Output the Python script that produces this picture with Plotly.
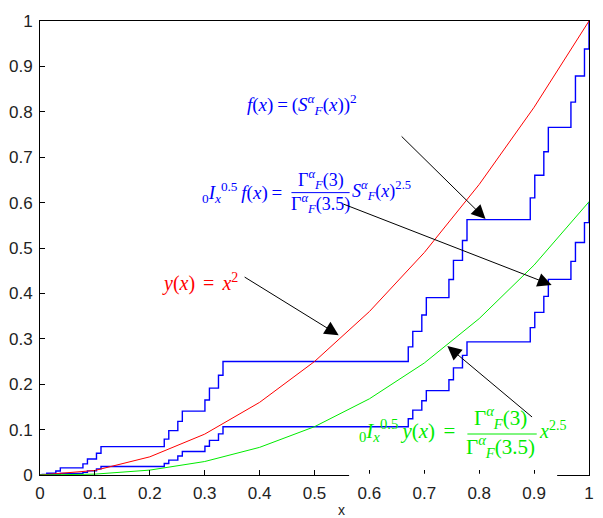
import plotly.graph_objects as go

# ---- data ----
x_smooth = [0, 0.1, 0.2, 0.3, 0.4, 0.5, 0.6, 0.7, 0.8, 0.9, 1.0]
y_square = [0, 0.01, 0.04, 0.09, 0.16, 0.25, 0.36, 0.49, 0.64, 0.81, 1.0]
y_frac_smooth = [0, 0.0019, 0.0108, 0.0297, 0.0609, 0.1064, 0.1678, 0.2467, 0.3445, 0.4624, 0.6018]

# staircase step positions (right end of each rise)
x_steps = [0, 0.00412, 0.01235, 0.02881, 0.03704, 0.07819, 0.08642, 0.10288, 0.11111,
           0.22634, 0.23457, 0.25103, 0.25926, 0.30041, 0.30864, 0.32510, 0.33333,
           0.67078, 0.67901, 0.69547, 0.70370, 0.74486, 0.75309, 0.76955, 0.77778,
           0.89300, 0.90123, 0.91770, 0.92593, 0.96708, 0.97531, 0.99177, 1.0]
f_steps = [0, 0.00098, 0.00391, 0.00879, 0.01563, 0.02441, 0.03516, 0.04785, 0.0625,
           0.07910, 0.09766, 0.11816, 0.14063, 0.16504, 0.19141, 0.21973, 0.25,
           0.28223, 0.31641, 0.35254, 0.39063, 0.43066, 0.47266, 0.51660, 0.5625,
           0.61035, 0.66016, 0.71191, 0.76563, 0.82129, 0.87891, 0.93848, 1.0]
If_steps = [0, 0.0001, 0.0006, 0.00162, 0.00332, 0.00581, 0.00916, 0.01347, 0.01881,
            0.02525, 0.03285, 0.04169, 0.05182, 0.06330, 0.07619, 0.09053, 0.10638,
            0.12379, 0.14281, 0.16348, 0.18584, 0.20995, 0.23585, 0.26357, 0.29316,
            0.32466, 0.35811, 0.39354, 0.43099, 0.47051, 0.51213, 0.55588, 0.6018]

tick_vals = [0, 0.1, 0.2, 0.3, 0.4, 0.5, 0.6, 0.7, 0.8, 0.9, 1]
tick_text = ["0", "0.1", "0.2", "0.3", "0.4", "0.5", "0.6", "0.7", "0.8", "0.9", "1"]

BLUE = "rgb(0,0,255)"
RED = "rgb(255,0,0)"
GREEN = "rgb(0,235,0)"
SERIF = "Liberation Serif"
SP = "\u2009"

fig = go.Figure()
fig.add_trace(go.Scatter(x=x_steps, y=f_steps, mode="lines", line=dict(color=BLUE, width=1.4, shape="hv")))
fig.add_trace(go.Scatter(x=x_steps, y=If_steps, mode="lines", line=dict(color=BLUE, width=1.4, shape="hv")))
fig.add_trace(go.Scatter(x=x_smooth, y=y_square, mode="lines", line=dict(color=RED, width=1)))
fig.add_trace(go.Scatter(x=x_smooth, y=y_frac_smooth, mode="lines", line=dict(color=GREEN, width=1)))

axis_common = dict(range=[0, 1], tickvals=tick_vals, ticktext=tick_text, ticks="inside", ticklen=5,
                   tickcolor="black", showline=True, linecolor="black", linewidth=1, mirror=True,
                   showgrid=False, zeroline=False, tickfont=dict(family="Liberation Sans", size=17, color="#222"),
                   ticklabelstandoff=3)
fig.update_xaxes(**axis_common)
fig.update_yaxes(**axis_common)

ann = []
def txt(x, y, t, color, size=16, xanchor="left"):
    ann.append(dict(x=x, y=y, xref="x", yref="y", text=t, showarrow=False, xanchor=xanchor, yanchor="middle",
                    font=dict(family=SERIF, size=size, color=color)))

EQ = SP + "=" + SP
# labels
txt(0.3728, 0.815, "<i>f</i>(<i>x</i>)" + EQ + "(<i>S</i><sup><i>α</i></sup><sub><i>F</i></sub>(<i>x</i>))<sup>2</sup>", BLUE, 19)
txt(0.2916, 0.623, "<sub>0</sub><i>I</i><sub><i>x</i></sub><sup>0.5</sup>" + SP + "<i>f</i>(<i>x</i>)" + EQ, BLUE, 19)
txt(0.511, 0.650, "Γ<sup><i>α</i></sup><sub><i>F</i></sub>(3)", BLUE, 18, "center")
txt(0.511, 0.597, "Γ<sup><i>α</i></sup><sub><i>F</i></sub>(3.5)", BLUE, 18, "center")
txt(0.5645, 0.626, "<i>S</i><sup><i>α</i></sup><sub><i>F</i></sub>(<i>x</i>)<sup>2.5</sup>", BLUE, 18)

txt(0.218, 0.423, "<i>y</i>(<i>x</i>)" + SP + EQ + SP + "<i>x</i><sup>2</sup>", RED, 20)

txt(0.577, 0.097, "<sub>0</sub><i>I</i><sub><i>x</i></sub><sup>0.5</sup>" + SP + "<i>y</i>(<i>x</i>)" + SP + EQ + SP, GREEN, 21)
txt(0.8395, 0.127, "Γ<sup><i>α</i></sup><sub><i>F</i></sub>(3)", GREEN, 21, "center")
txt(0.8395, 0.062, "Γ<sup><i>α</i></sup><sub><i>F</i></sub>(3.5)", GREEN, 21, "center")
txt(0.906, 0.1, "<i>x</i><sup>2.5</sup>", GREEN, 20)

# arrows (head, tail)
arrows = [((0.8115, 0.564), (0.656, 0.749)),
          ((0.932, 0.4185), (0.550, 0.598)),
          ((0.544, 0.308), (0.370, 0.438)),
          ((0.742, 0.284), (0.899, 0.125))]
for (hx, hy), (tx, ty) in arrows:
    ann.append(dict(x=hx, y=hy, ax=tx, ay=ty, xref="x", yref="y", axref="x", ayref="y", text="",
                    showarrow=True, arrowhead=2, arrowsize=2.8, arrowwidth=1, arrowcolor="black"))

ann.append(dict(x=(345 - 40) / 554.5, y=(475 - 510) / 454, xref="paper", yref="paper", text="x",
                showarrow=False, xanchor="center", yanchor="middle",
                font=dict(family="Liberation Sans", size=14, color="#222")))

shapes = [
    dict(type="line", xref="x", yref="y", x0=0.458, x1=0.564, y0=0.622, y1=0.622, line=dict(color=BLUE, width=1)),
    dict(type="line", xref="x", yref="y", x0=0.7785, x1=0.9048, y0=0.0903, y1=0.0903, line=dict(color=GREEN, width=1)),
    dict(type="rect", xref="x", yref="paper", x0=0.563, x1=0.942, y0=-0.008, y1=0.003,
         fillcolor="white", line=dict(width=0), layer="above"),
]

fig.update_layout(width=603, height=518, margin=dict(l=40, r=9, t=21, b=43),
                  paper_bgcolor="white", plot_bgcolor="white", showlegend=False,
                  annotations=ann, shapes=shapes)

fig.write_html("out.html", config={"displayModeBar": False},
               post_script="document.body.style.margin='0';")
